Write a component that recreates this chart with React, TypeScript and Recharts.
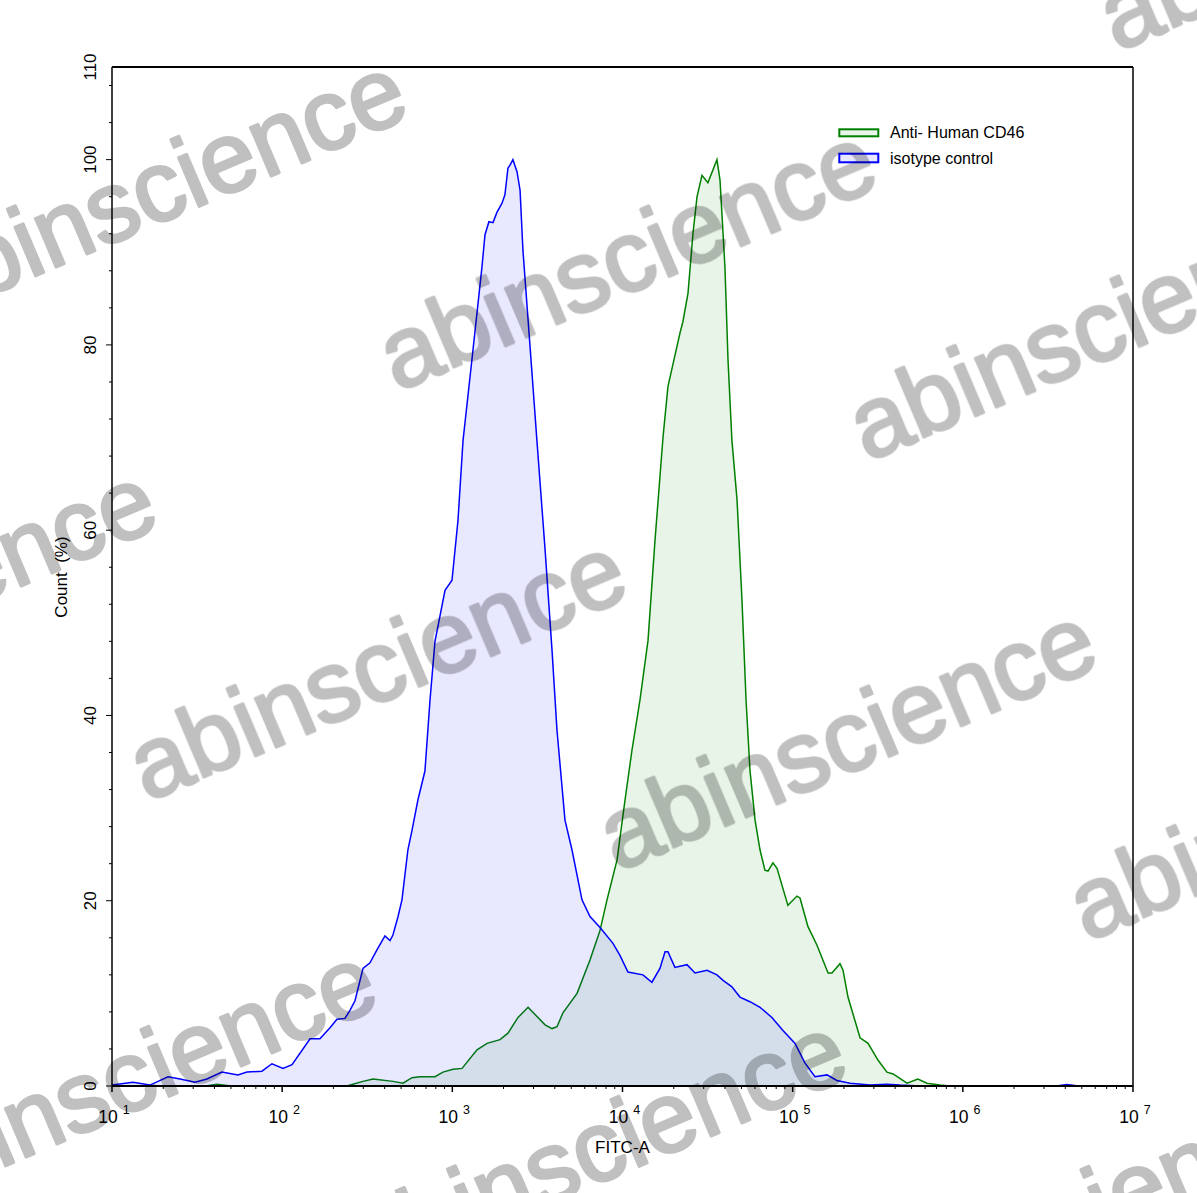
import React from 'react';
import { AreaChart, Area, XAxis, YAxis, ReferenceLine, Legend, Label } from 'recharts';

// x values are log10(FITC-A), y values are Count (%)
const isotypeLog = [
  1.0, 1.123, 1.223, 1.329, 1.4, 1.488, 1.558, 1.646, 1.74, 1.793, 1.881, 1.94, 2.005, 2.058,
  2.164, 2.222, 2.281, 2.322, 2.369, 2.399, 2.428, 2.475, 2.516, 2.557, 2.604, 2.634, 2.651,
  2.681, 2.704, 2.739, 2.763, 2.798, 2.839, 2.869, 2.898, 2.957, 2.998, 3.033, 3.063, 3.121,
  3.174, 3.192, 3.215, 3.239, 3.262, 3.292, 3.309, 3.327, 3.339, 3.356, 3.38, 3.398, 3.415,
  3.468, 3.497, 3.545, 3.586, 3.615, 3.662, 3.703, 3.762, 3.809, 3.868, 3.944, 3.985, 4.032,
  4.12, 4.173, 4.22, 4.25, 4.267, 4.308, 4.379, 4.426, 4.497, 4.555, 4.591, 4.643, 4.69, 4.749,
  4.808, 4.878, 4.943, 5.014, 5.072, 5.131, 5.202, 5.26, 5.337, 5.454, 5.554, 5.631, 5.75,
  6.55, 6.612, 6.68, 7.0,
];
const isotypeCount = [
  0.1, 0.4, 0.1, 1.0, 0.75, 0.4, 0.75, 1.5, 1.2, 1.5, 1.6, 2.4, 1.9, 2.3,
  5.1, 5.1, 6.3, 7.2, 7.3, 8.2, 9.2, 12.7, 13.3, 14.7, 16.2, 15.7, 16.3,
  18.3, 20.1, 25.5, 27.6, 30.9, 34, 41.7, 48, 53.5, 54.6, 61, 69.7, 79.4,
  88.4, 91.9, 93.3, 93.2, 94.3, 95.3, 96.2, 99.1, 99.4, 100, 98.7, 96.7, 90.2,
  77, 69.7, 57.9, 47, 38.4, 28.7, 25.5, 20.1, 18.3, 17.1, 15.4, 14.1, 12.3,
  12.0, 11.2, 12.7, 14.5, 14.5, 12.8, 13.1, 12.2, 12.5, 12.0, 11.4, 10.7, 9.6, 9.1,
  8.5, 7.4, 6.0, 4.6, 2.5, 1.0, 1.2, 0.6, 0.3, 0.1, 0.2, 0.1, 0,
  0, 0.15, 0, 0,
];

const cd46Log = [
  1.0, 1.55, 1.617, 1.7, 2.381, 2.399, 2.475, 2.534, 2.651, 2.71, 2.763, 2.81, 2.898, 2.945,
  3.004, 3.057, 3.145, 3.204, 3.28, 3.327, 3.386, 3.445, 3.545, 3.586, 3.615, 3.65, 3.733,
  3.809, 3.868, 3.909, 3.968, 4.015, 4.056, 4.103, 4.15, 4.191, 4.238, 4.267, 4.338, 4.355,
  4.385, 4.414, 4.438, 4.467, 4.502, 4.555, 4.573, 4.602, 4.62, 4.643, 4.673, 4.702, 4.726,
  4.749, 4.779, 4.808, 4.837, 4.855, 4.884, 4.908, 4.972, 5.025, 5.043, 5.09, 5.143, 5.208,
  5.231, 5.278, 5.296, 5.325, 5.396, 5.443, 5.501, 5.554, 5.59, 5.672, 5.736, 5.789, 5.866,
  5.925, 7.0,
];
const cd46Count = [
  0, 0, 0.2, 0, 0, 0.1, 0.5, 0.75, 0.5, 0.3, 0.9, 1.0, 1.0, 1.5,
  1.8, 1.9, 3.9, 4.6, 5.0, 5.7, 7.4, 8.5, 6.6, 6.2, 6.4, 7.9, 10,
  13.6, 16.8, 20.1, 24.4, 30.9, 36.3, 41.7, 48.1, 58.9, 70, 75.5, 81.3, 82.5,
  85.6, 92, 96, 98.3, 97.5, 100, 97.8, 88.4, 78.4, 69.7, 63.3, 52.5, 41.7,
  34.1, 28.7, 25.5, 23.3, 23.2, 24.1, 23.5, 19.5, 20.5, 20.3, 17.2, 15.2, 12.2,
  12.2, 13.2, 12.5, 9.6, 5.2, 4.6, 2.8, 1.5, 1.3, 0.3, 0.75, 0.3, 0.1,
  0, 0,
];

const legendItems = [
  { name: 'Anti- Human CD46', color: '#008000' },
  { name: 'isotype control', color: '#0000FF' },
];

const FONT = '"Liberation Sans", Arial, sans-serif';

type Row = { x: number; isotype?: number; cd46?: number };
const rowMap = new Map<number, Row>();
isotypeLog.forEach((x, i) => {
  const r = rowMap.get(x) ?? { x };
  r.isotype = isotypeCount[i];
  rowMap.set(x, r);
});
cd46Log.forEach((x, i) => {
  const r = rowMap.get(x) ?? { x };
  r.cd46 = cd46Count[i];
  rowMap.set(x, r);
});
const chartData = Array.from(rowMap.values()).sort((a, b) => a.x - b.x);

// decade ticks plus the 2..9 minor ticks
const xTicks: number[] = [];
for (let d = 1; d < 7; d++) {
  for (let m = 1; m <= 9; m++) xTicks.push(d + Math.log10(m));
}
xTicks.push(7);

const yTicks: number[] = [];
for (let v = 0; v <= 108; v += 4) yTicks.push(v);
yTicks.push(110);

const XTick = (props: any) => {
  const { x, y, payload } = props;
  const v = payload.value;
  const major = Math.abs(v - Math.round(v)) < 1e-6;
  if (!major) return <line x1={x} x2={x} y1={y} y2={y + 3} stroke="#000" strokeWidth={1} />;
  return (
    <g>
      <line x1={x} x2={x} y1={y} y2={y + 6} stroke="#000" strokeWidth={1.5} />
      <text x={x + 2} y={y + 36.5} textAnchor="middle" fontFamily={FONT} fontSize={17.5} fill="#000">
        <tspan>10</tspan>
        <tspan dx={5} dy={-8.5} fontSize={12.5}>{Math.round(v)}</tspan>
      </text>
    </g>
  );
};

const YTick = (props: any) => {
  const { x, y, payload } = props;
  const v = payload.value;
  const label = v % 20 === 0 || v === 110;
  return (
    <g>
      {v !== 110 && (
        <line x1={x - (v % 20 === 0 ? 6 : 3)} x2={x} y1={y} y2={y} stroke="#000" strokeWidth={1} />
      )}
      {label && (
        <text
          x={x - 16}
          y={y}
          transform={`rotate(-90, ${x - 16}, ${y})`}
          textAnchor="middle"
          fontFamily={FONT}
          fontSize={17}
          fill="#000"
        >
          {v}
        </text>
      )}
    </g>
  );
};

const renderLegend = () => (
  <svg width={240} height={60}>
    {legendItems.map((item, i) => {
      const top = i === 0 ? 11.3 : 35.7;
      const base = i === 0 ? 19.5 : 46;
      return (
        <g key={item.name}>
          <rect x={9.3} y={top} width={39} height={i === 0 ? 7 : 8.6} fill={item.color} fillOpacity={0.09} stroke={item.color} strokeWidth={2} />
          <text x={60} y={base} fontFamily={FONT} fontSize={16} fill="#000">{item.name}</text>
        </g>
      );
    })}
  </svg>
);

const Watermarks = () => {
  const marks: { x: number; y: number }[] = [];
  for (let i = -2; i <= 3; i++) {
    for (let j = -1; j <= 3; j++) {
      marks.push({ x: 397 + i * 470 + j * -250, y: 392 + i * 70 + j * 410 });
    }
  }
  return (
    <svg width={1197} height={1193} style={{ position: 'absolute', left: 0, top: 0, pointerEvents: 'none' }}>
      <g opacity={0.25}>
        {marks.map((m, k) => (
          <text
            key={k}
            x={m.x}
            y={m.y}
            transform={`rotate(-23, ${m.x}, ${m.y})`}
            fontFamily={FONT}
            fontSize={100}
            fill="#000"
            stroke="#000"
            strokeWidth={3}
            strokeLinejoin="round"
          >
            abinscience
          </text>
        ))}
      </g>
    </svg>
  );
};

export default function App() {
  return (
    <div style={{ position: 'absolute', left: 0, top: 0, width: 1197, height: 1193, background: '#fff', overflow: 'hidden' }}>
      <AreaChart width={1197} height={1193} data={chartData} margin={{ top: 67, right: 64, bottom: 67, left: 52 }}>
        <XAxis
          dataKey="x"
          type="number"
          domain={[1, 7]}
          ticks={xTicks}
          interval={0}
          height={40}
          tickSize={0}
          tickMargin={0}
          tickLine={false}
          tick={XTick}
          axisLine={{ stroke: '#000', strokeWidth: 2 }}
          allowDataOverflow
        >
          <Label value="FITC-A" position="bottom" offset={15} fill="#000" fontSize={17} fontFamily={FONT} />
        </XAxis>
        <YAxis
          type="number"
          domain={[0, 110]}
          ticks={yTicks}
          interval={0}
          width={60}
          tickSize={0}
          tickMargin={0}
          tickLine={false}
          tick={YTick}
          axisLine={{ stroke: '#000', strokeWidth: 1.5 }}
          allowDataOverflow
        >
          <Label
            content={() => (
              <text
                x={67}
                y={577}
                transform="rotate(-90, 67, 577)"
                textAnchor="middle"
                fontFamily={FONT}
                fontSize={17}
                fill="#000"
                style={{ whiteSpace: 'pre' }}
              >
                {'Count  (%)'}
              </text>
            )}
          />
        </YAxis>
        <ReferenceLine y={110} stroke="#000" strokeWidth={2} />
        <ReferenceLine x={7} stroke="#000" strokeWidth={1.5} />
        <Area
          type="linear"
          dataKey="cd46"
          name="Anti- Human CD46"
          stroke="#008000"
          strokeWidth={1.5}
          fill="#008000"
          fillOpacity={0.09}
          connectNulls
          dot={false}
          activeDot={false}
          isAnimationActive={false}
        />
        <Area
          type="linear"
          dataKey="isotype"
          name="isotype control"
          stroke="#0000FF"
          strokeWidth={1.5}
          fill="#0000FF"
          fillOpacity={0.09}
          connectNulls
          dot={false}
          activeDot={false}
          isAnimationActive={false}
        />
        <Legend
          layout="vertical"
          align="center"
          verticalAlign="middle"
          content={renderLegend}
          wrapperStyle={{ left: 830, top: 118, width: 240, height: 60 }}
        />
      </AreaChart>
      <Watermarks />
    </div>
  );
}
